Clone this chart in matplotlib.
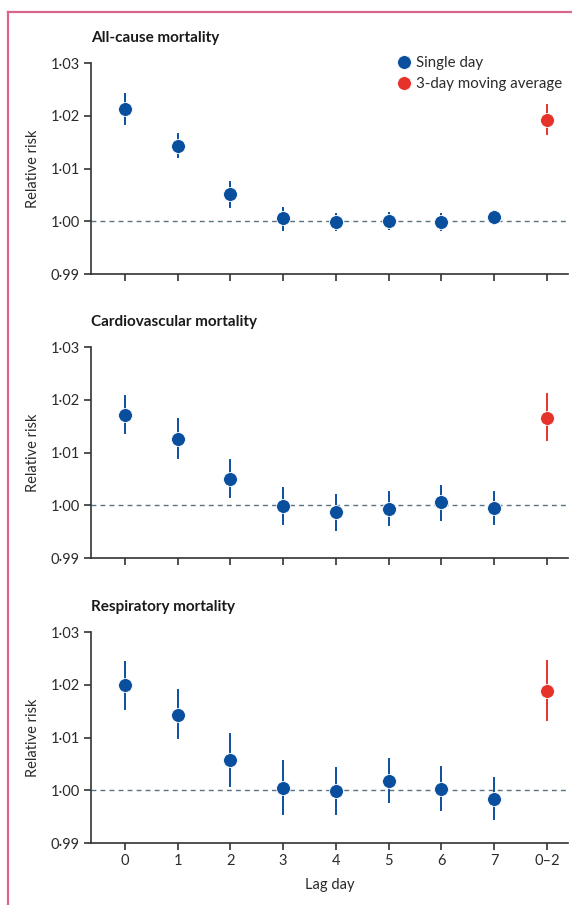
import numpy as np
import matplotlib
matplotlib.use("Agg")
import matplotlib.pyplot as plt
from matplotlib.lines import Line2D
from matplotlib.ticker import FixedLocator

plt.rcParams['font.family'] = ['Lato', 'DejaVu Sans']

# data
lag_labels = ["0", "1", "2", "3", "4", "5", "6", "7", "0\u20132"]
titles = ["All-cause mortality", "Cardiovascular mortality", "Respiratory mortality"]

allcause_rr = [1.0212, 1.0143, 1.0051, 1.0007, 0.9999, 1.0001, 0.9998, 1.0008, 1.0192]
allcause_lo = [1.0185, 1.0122, 1.0027, 0.9983, 0.9984, 0.9986, 0.9984, 0.9994, 1.0165]
allcause_hi = [1.0242, 1.0165, 1.0075, 1.0026, 1.0014, 1.0016, 1.0013, 1.0019, 1.0220]

cardio_rr = [1.0172, 1.0125, 1.0049, 0.9998, 0.9987, 0.9993, 1.0006, 0.9995, 1.0165]
cardio_lo = [1.0137, 1.0090, 1.0015, 0.9964, 0.9953, 0.9962, 0.9972, 0.9964, 1.0123]
cardio_hi = [1.0207, 1.0163, 1.0085, 1.0032, 1.0020, 1.0026, 1.0036, 1.0026, 1.0211]

resp_rr = [1.0200, 1.0143, 1.0058, 1.0004, 0.9998, 1.0018, 1.0002, 0.9983, 1.0189]
resp_lo = [1.0154, 1.0099, 1.0008, 0.9955, 0.9955, 0.9978, 0.9962, 0.9946, 1.0134]
resp_hi = [1.0244, 1.0190, 1.0107, 1.0055, 1.0043, 1.0059, 1.0045, 1.0023, 1.0245]

panels = [(allcause_rr, allcause_lo, allcause_hi),
          (cardio_rr, cardio_lo, cardio_hi),
          (resp_rr, resp_lo, resp_hi)]

yticks = [0.99, 1.00, 1.01, 1.02, 1.03]
ytick_labels = ["0\u00b799", "1\u00b700", "1\u00b701", "1\u00b702", "1\u00b703"]

blue = "#0a4f9e"
red = "#e5322b"
axis_col = "#333333"
text_col = "#2b2b2b"

fig = plt.figure(figsize=(5.72, 9.05), dpi=100)

# pink frame at top/left
fig.add_artist(Line2D([8 / 572, 8 / 572], [0, 1 - 12 / 905], color="#d8668a", lw=1.6))
fig.add_artist(Line2D([8 / 572, 1], [1 - 12 / 905, 1 - 12 / 905], color="#d8668a", lw=1.6))

tops = [63, 347, 632]
x = np.arange(len(lag_labels))

for i, (rr, lo, hi) in enumerate(panels):
    top = tops[i]
    ax = fig.add_axes([91 / 572, 1 - (top + 211) / 905, 477 / 572, 211 / 905])
    rr = np.array(rr)
    lo = np.array(lo)
    hi = np.array(hi)
    cols = [blue] * 8 + [red]
    for j in range(len(x)):
        ax.plot([x[j], x[j]], [lo[j], hi[j]], color=cols[j], lw=1.4, zorder=3)
        ax.plot(x[j], rr[j], "o", color=cols[j], ms=10, mec="white", mew=0.6, zorder=4)
    ax.axhline(1.0, color="#5b7181", lw=1.0, ls=(0, (3.5, 3)), zorder=1)

    ax.set_xlim(-0.64, 8.4)
    ax.set_ylim(0.99, 1.03)
    ax.yaxis.set_major_locator(FixedLocator(yticks))
    ax.set_yticklabels(ytick_labels)
    ax.set_xticks(x)
    if i == 2:
        ax.set_xticklabels(lag_labels)
        ax.set_xlabel("Lag day", fontsize=10.5, color=text_col, labelpad=7)
    else:
        ax.set_xticklabels([])
    ax.set_ylabel("Relative risk", fontsize=10.5, color=text_col, labelpad=8)
    for s in ["top", "right"]:
        ax.spines[s].set_visible(False)
    for s in ["left", "bottom"]:
        ax.spines[s].set_color(axis_col)
        ax.spines[s].set_linewidth(1.2)
    ax.tick_params(axis="both", direction="out", length=5, width=1.2, color=axis_col,
                   labelsize=10.5, labelcolor=text_col, pad=3)
    ax.set_title(titles[i], loc="left", fontsize=11, fontweight="bold", color="#1a1a1a",
                 x=0.0, y=1.0, pad=15)

    if i == 0:
        h1 = Line2D([], [], marker="o", ls="none", color=blue, ms=10, mec="white", mew=0.6)
        h2 = Line2D([], [], marker="o", ls="none", color=red, ms=10, mec="white", mew=0.6)
        ax.legend([h1, h2], ["Single day", "3-day moving average"], loc="upper right",
                  bbox_to_anchor=(1.0, 1.062), frameon=False, fontsize=10.8,
                  handletextpad=0.0, handlelength=1.6, labelspacing=0.5,
                  borderaxespad=0.0, labelcolor=text_col)

fig.savefig("out.png", dpi=100)
